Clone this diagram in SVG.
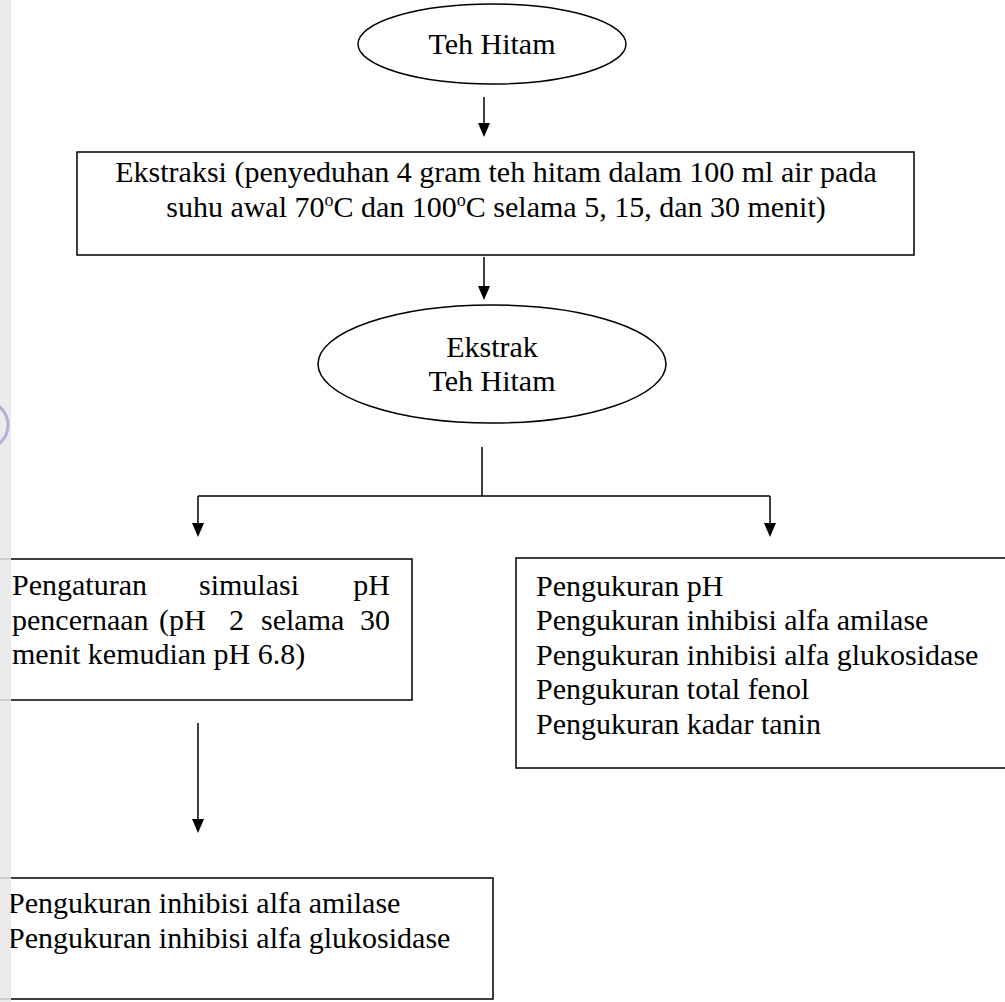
<svg xmlns="http://www.w3.org/2000/svg" width="1005" height="1002" viewBox="0 0 1005 1002">
<style>
  .box { fill: #ffffff; stroke: #000000; stroke-width: 1.5; }
  .line { fill: none; stroke: #000000; stroke-width: 1.5; }
  .t { font-family: "Liberation Serif", "Times New Roman", serif; font-size: 30px; fill: #000000; }
  .c { text-anchor: middle; }
  .sup { font-size: 18px; }
</style>
<defs>
  <marker id="arrow" markerWidth="12" markerHeight="14" refX="6" refY="14" orient="auto-start-reverse" markerUnits="userSpaceOnUse" viewBox="0 0 12 14">
    <path d="M0,0 L12,0 L6,14 Z" fill="#000000" transform="rotate(0)"/>
  </marker>
</defs>
<rect x="0" y="0" width="1005" height="1002" fill="#ffffff"/>

<g id="connectors">
  <path class="line" d="M484,97 L484,124"/>
  <path d="M478,123 L490,123 L484,137 Z" fill="#000"/>
  <path class="line" d="M484,257 L484,287"/>
  <path d="M478,286 L490,286 L484,300 Z" fill="#000"/>
  <path class="line" d="M482,447 L482,496 M198,496 L770,496 M198,496 L198,524 M770,496 L770,524"/>
  <path d="M192,523 L204,523 L198,537 Z" fill="#000"/>
  <path d="M764,523 L776,523 L770,537 Z" fill="#000"/>
  <path class="line" d="M198,723 L198,820"/>
  <path d="M192,819 L204,819 L198,833 Z" fill="#000"/>
</g>

<g id="node-teh-hitam">
  <ellipse class="box" cx="492" cy="44" rx="134" ry="40"/>
  <text class="t c" x="492" y="54">Teh Hitam</text>
</g>

<g id="node-ekstraksi">
  <rect class="box" x="77" y="152" width="837" height="103"/>
  <text class="t c" x="496" y="182">Ekstraksi (penyeduhan 4 gram teh hitam dalam 100 ml air pada</text>
  <text class="t c" x="496" y="217">suhu awal 70<tspan class="sup" dy="-11">o</tspan><tspan dy="11">C dan 100</tspan><tspan class="sup" dy="-11">o</tspan><tspan dy="11">C selama 5, 15, dan 30 menit)</tspan></text>
</g>

<g id="node-ekstrak">
  <ellipse class="box" cx="492" cy="364" rx="174" ry="59"/>
  <text class="t c" x="492" y="357">Ekstrak</text>
  <text class="t c" x="492" y="391">Teh Hitam</text>
</g>

<g id="node-pengaturan">
  <rect class="box" x="-5" y="559" width="417" height="141"/>
  <text class="t" y="595"><tspan x="12">Pengaturan</tspan><tspan x="199">simulasi</tspan><tspan x="390" text-anchor="end">pH</tspan></text>
  <text class="t" y="630"><tspan x="12">pencernaan</tspan><tspan x="159">(pH</tspan><tspan x="229">2</tspan><tspan x="261">selama</tspan><tspan x="390" text-anchor="end">30</tspan></text>
  <text class="t" x="12" y="664">menit kemudian pH 6.8)</text>
</g>

<g id="node-pengukuran-kanan">
  <rect class="box" x="516" y="558" width="500" height="210"/>
  <text class="t" x="536" y="596">Pengukuran pH</text>
  <text class="t" x="536" y="630">Pengukuran inhibisi alfa amilase</text>
  <text class="t" x="536" y="665">Pengukuran inhibisi alfa glukosidase</text>
  <text class="t" x="536" y="699">Pengukuran total fenol</text>
  <text class="t" x="536" y="734">Pengukuran kadar tanin</text>
</g>

<g id="node-pengukuran-kiri">
  <rect class="box" x="-5" y="878" width="498" height="121"/>
  <text class="t" x="8" y="913">Pengukuran inhibisi alfa amilase</text>
  <text class="t" x="8" y="948">Pengukuran inhibisi alfa glukosidase</text>
</g>

<g id="margin">
  <rect x="0" y="0" width="11" height="1002" fill="#e8e8e8" opacity="0.85"/>
  <circle cx="-16" cy="425" r="24" fill="none" stroke="#b3afd6" stroke-width="3"/>
</g>
</svg>
